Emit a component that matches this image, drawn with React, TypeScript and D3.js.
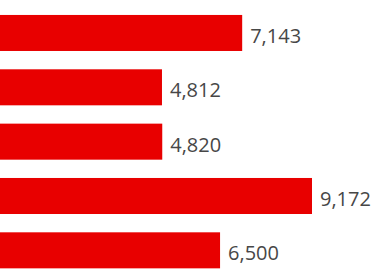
import React from "react";
import * as d3 from "d3";

const categories = ["A", "B", "C", "D", "E"];
const values = [7143, 4812, 4820, 9172, 6500];

const W = 376;
const H = 278;

export default function App() {
  const x = d3.scaleLinear().domain([0, 9172]).range([-3.6, 312]);
  const y = d3
    .scaleBand<string>()
    .domain(categories)
    .range([5.8, 277.5])
    .paddingInner(0.337)
    .paddingOuter(0.1685);
  const fmt = d3.format(",");
  return (
    <svg
      width={W}
      height={H}
      style={{ position: "fixed", left: 0, top: 0, display: "block" }}
    >
      <rect x={0} y={0} width={W} height={H} fill="#ffffff" />
      {categories.map((c, i) => {
        const y0 = y(c) as number;
        const bw = y.bandwidth();
        return (
          <g key={c}>
            <rect
              x={x(0)}
              y={y0}
              width={x(values[i]) - x(0)}
              height={bw}
              fill="#e80000"
            />
            <text
              x={x(values[i]) + 8}
              y={y0 + bw / 2 + 10}
              fontFamily="'Open Sans', 'Noto Sans', sans-serif"
              fontSize={20}
              fill="#474747"
            >
              {fmt(values[i])}
            </text>
          </g>
        );
      })}
    </svg>
  );
}
